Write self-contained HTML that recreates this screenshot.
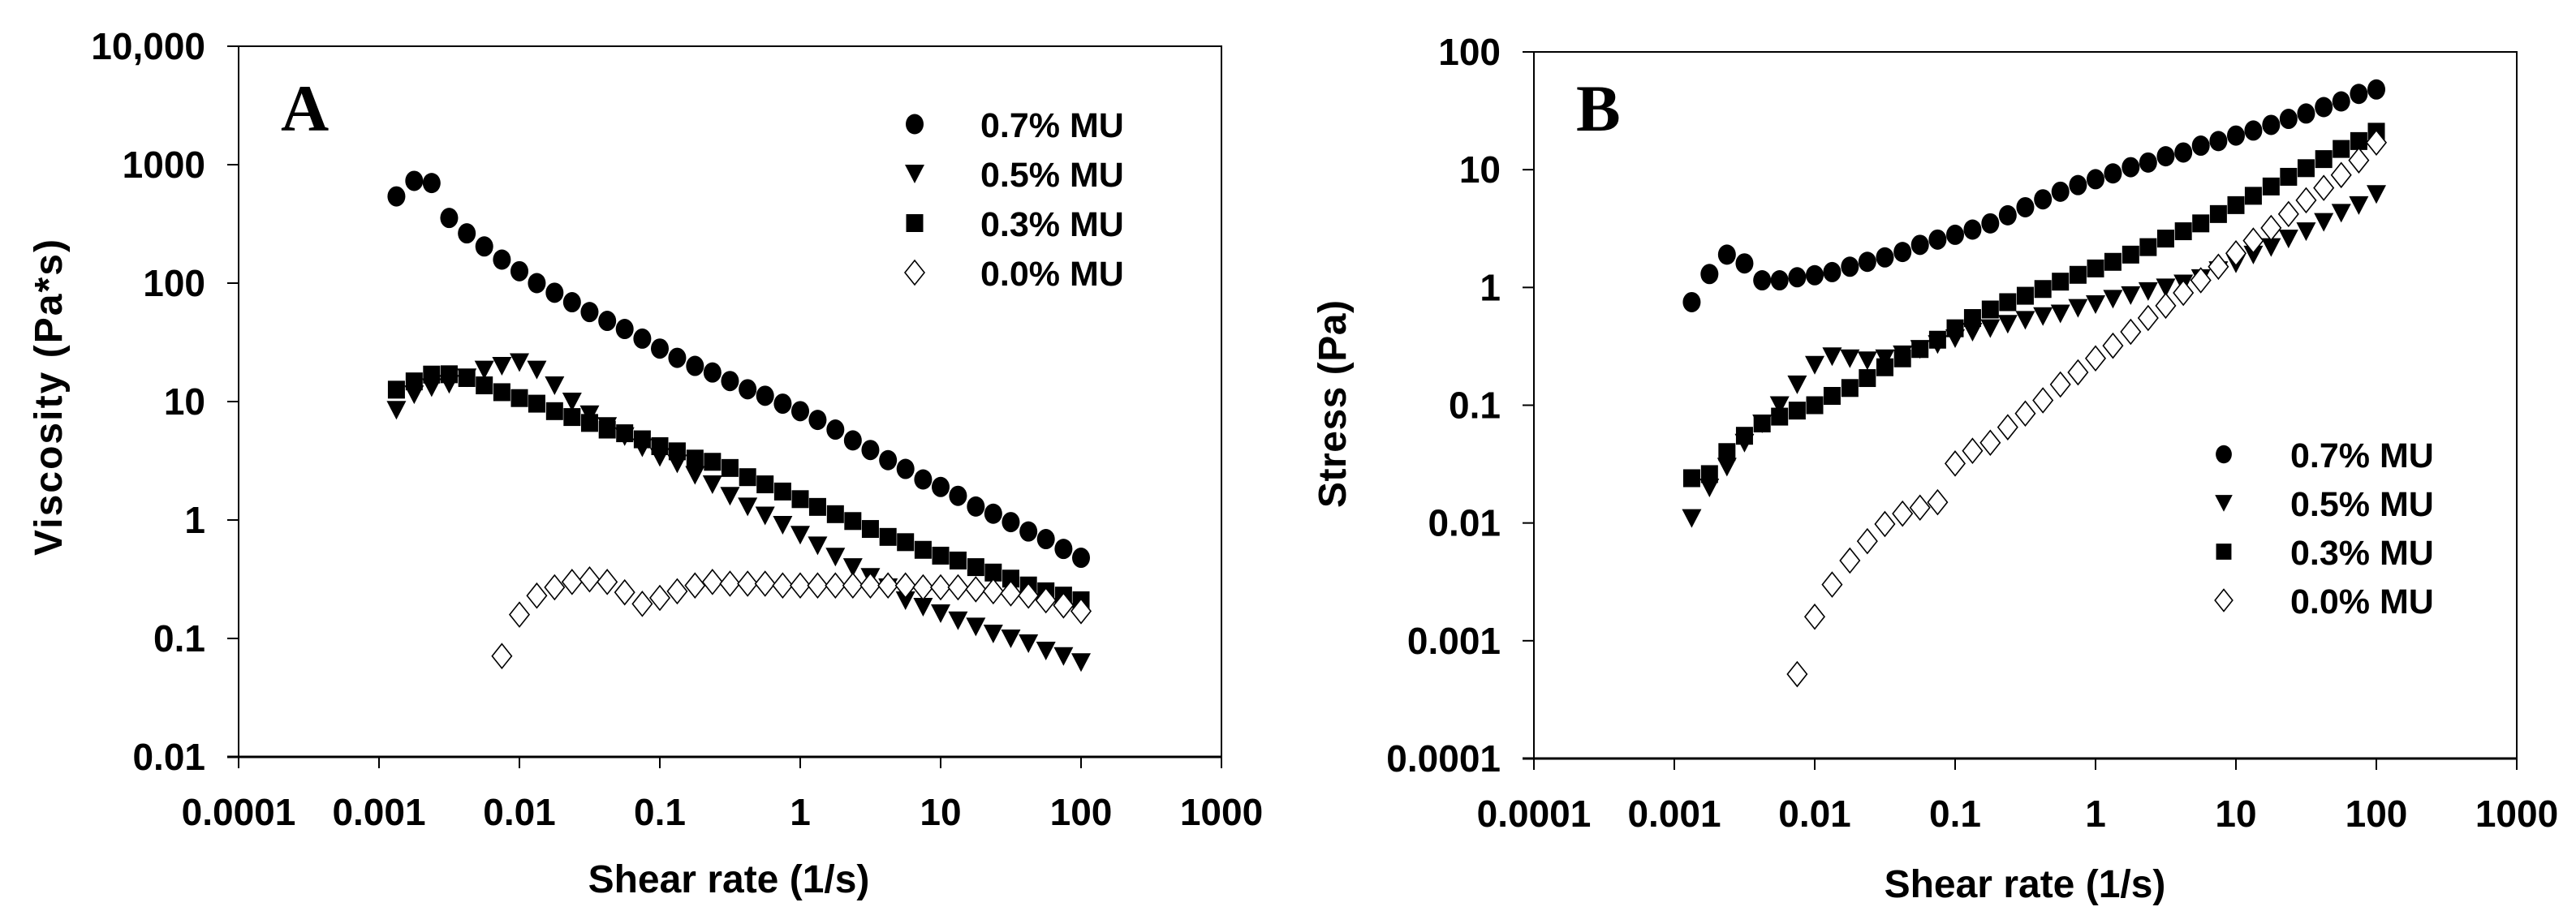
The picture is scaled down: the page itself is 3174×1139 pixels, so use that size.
<!DOCTYPE html>
<html><head><meta charset="utf-8"><style>
html,body{margin:0;padding:0;background:#fff;}
svg{display:block;font-family:"Liberation Sans",Arial,sans-serif;font-weight:bold;}
</style></head><body>
<svg id="fig" width="3174" height="1139" viewBox="0 0 3174 1139" xmlns="http://www.w3.org/2000/svg">
<g id="panelA"></g>
<g id="panelB"></g>
</svg>
<script>
// shear rate grid exponents (8 points per decade from ~0.0013 to 100)
const shearRates = [0.00133,0.00178,0.00237,0.00316,0.00422,0.00562,0.0075,0.01,0.0133,0.0178,0.0237,0.0316,0.0422,0.0562,0.075,0.1,0.133,0.178,0.237,0.316,0.422,0.562,0.75,1,1.33,1.78,2.37,3.16,4.22,5.62,7.5,10,13.3,17.8,23.7,31.6,42.2,56.2,75,100];
const shearRates0 = shearRates.slice(6);
const seriesNames = ["0.7% MU","0.5% MU","0.3% MU","0.0% MU"];
const xTicks = ["0.0001","0.001","0.01","0.1","1","10","100","1000"];
const yTicksA = ["0.01","0.1","1","10","100","1000","10,000"];
const yTicksB = ["0.0001","0.001","0.01","0.1","1","10","100"];

// Panel A viscosity (Pa*s)
const viscA07 = [540,730,700,355,263,204,158,126,100,83,69,57,48,41,34,28,23.4,20,17.6,14.9,12.7,11.2,9.6,8.3,7.0,5.8,4.7,3.9,3.2,2.7,2.2,1.9,1.6,1.3,1.13,0.96,0.8,0.69,0.57,0.48];
const viscA05 = [8.5,11.5,13.2,14.1,16,18.6,20,21.5,18.6,13.7,10,7.8,6.2,5.1,4.1,3.4,3.0,2.4,2.0,1.6,1.3,1.09,0.91,0.75,0.61,0.49,0.40,0.33,0.27,0.21,0.185,0.163,0.142,0.126,0.11,0.10,0.091,0.079,0.071,0.063];
const viscA03 = [12.6,14.8,16.9,17,15.8,13.7,12,10.7,9.6,8.3,7.4,6.6,5.8,5.4,4.8,4.2,3.8,3.3,3.1,2.75,2.3,2.0,1.74,1.5,1.29,1.12,0.98,0.84,0.72,0.65,0.56,0.50,0.455,0.40,0.36,0.32,0.28,0.25,0.23,0.21];
const viscA00 = [0.071,0.159,0.23,0.27,0.30,0.315,0.30,0.245,0.196,0.22,0.25,0.28,0.30,0.29,0.29,0.29,0.28,0.28,0.28,0.28,0.28,0.28,0.28,0.28,0.27,0.27,0.27,0.26,0.25,0.24,0.23,0.21,0.19,0.17];

// Panel B stress (Pa)
const stressB07 = [0.75,1.3,1.9,1.6,1.15,1.15,1.22,1.27,1.35,1.5,1.65,1.8,2.0,2.3,2.55,2.8,3.1,3.5,4.1,4.8,5.6,6.5,7.4,8.3,9.3,10.5,11.5,13,14,16,17.5,19.5,21.5,24,27,30,34,38,44,48];
const stressB05 = [0.011,0.020,0.030,0.048,0.070,0.10,0.15,0.22,0.26,0.25,0.24,0.25,0.27,0.30,0.33,0.37,0.42,0.45,0.49,0.53,0.57,0.60,0.67,0.72,0.80,0.86,0.93,1.0,1.08,1.2,1.4,1.6,1.9,2.2,2.6,3.0,3.6,4.3,5.0,6.2];
const stressB03 = [0.024,0.026,0.04,0.055,0.07,0.08,0.09,0.1,0.12,0.14,0.17,0.21,0.25,0.3,0.36,0.45,0.55,0.65,0.75,0.85,0.97,1.12,1.28,1.45,1.65,1.9,2.2,2.6,3.0,3.5,4.2,5.0,6.0,7.2,8.7,10.3,12.3,15,17.5,21];
const stressB00 = [0.00052,0.0016,0.003,0.0048,0.007,0.0098,0.012,0.0135,0.015,0.032,0.041,0.048,0.065,0.085,0.11,0.15,0.19,0.25,0.32,0.42,0.55,0.7,0.9,1.15,1.5,1.95,2.5,3.2,4.2,5.5,7,9,12,17];

const NS="http://www.w3.org/2000/svg";
function mk(parent,tag,attrs){const e=document.createElementNS(NS,tag);for(const k in attrs)e.setAttribute(k,attrs[k]);parent.appendChild(e);return e;}

function marker(g,type,x,y,s){
  let e;
  if(type==="circle"){e=mk(g,"ellipse",{cx:x,cy:y,rx:11*s,ry:12.5*s,fill:"#000"});}
  else if(type==="tri"){e=mk(g,"polygon",{points:`${x-12*s},${y-11*s} ${x+12*s},${y-11*s} ${x},${y+12*s}`,fill:"#000"});}
  else if(type==="square"){e=mk(g,"rect",{x:x-10.5*s,y:y-11*s,width:21*s,height:22*s,fill:"#000"});}
  else {e=mk(g,"polygon",{points:`${x},${y-15*s} ${x+12*s},${y} ${x},${y+15*s} ${x-12*s},${y}`,fill:"#fff",stroke:"#000","stroke-width":1.6});}
  return e;
}

function panel(gid,cfg){
  const g=document.getElementById(gid);
  const {L,R,T,B,ymin,ymax}=cfg;
  const xs=v=>L+(Math.log10(v)+4)/7*(R-L);
  const ys=v=>B-(Math.log10(v)-ymin)/(ymax-ymin)*(B-T);
  const frame=mk(g,"rect",{x:L,y:T,width:R-L,height:B-T,fill:"none",stroke:"#000","stroke-width":2});
  
  
  const xa=mk(g,"line",{x1:L-14,y1:B,x2:R,y2:B,stroke:"#000","stroke-width":3});
  
  
  xTicks.forEach((t,i)=>{
    const x=xs(parseFloat(t));
    const tk=mk(g,"line",{x1:x,y1:B,x2:x,y2:B+14,stroke:"#000","stroke-width":2});
    
    
    const tl=mk(g,"text",{x:x,y:B+84,"text-anchor":"middle","font-size":46});
    tl.textContent=t;
    
    
  });
  cfg.yTicks.forEach((t,i)=>{
    const y=ys(parseFloat(t.replace(",","")));
    const tk=mk(g,"line",{x1:L-14,y1:y,x2:L,y2:y,stroke:"#000","stroke-width":2});
    
    
    const tl=mk(g,"text",{x:L-41,y:y+16,"text-anchor":"end","font-size":46});
    tl.textContent=t;
    
    
  });
  const xt=mk(g,"text",{x:cfg.xtx,y:cfg.xty,"text-anchor":"middle","font-size":48});
  xt.textContent="Shear rate (1/s)";
  
  
  const yt=mk(g,"text",{x:0,y:0,"text-anchor":"middle","font-size":48,transform:`translate(${cfg.ytx},${cfg.yty}) rotate(-90)`,textLength:cfg.ytl,lengthAdjust:"spacing"});
  yt.textContent=cfg.ytitle;
  
  
  const pl=mk(g,"text",{x:cfg.plx,y:cfg.ply,"font-size":82,"font-family":"Liberation Serif, serif"});
  pl.textContent=cfg.label;
  
  
  const types=["circle","tri","square","diamond"];
  cfg.series.forEach((vals,si)=>{
    const sg=mk(g,"g",{});
    
    
    const rates = si===3?shearRates0:shearRates;
    vals.forEach((v,i)=>{
      const m=marker(sg,types[si],xs(rates[i]),ys(v),1);
      
      
    });
  });
  const lg=mk(g,"g",{});
  
  
  seriesNames.forEach((n,i)=>{
    const y=cfg.legY+i*cfg.legDy;
    const m=marker(lg,types[i],cfg.legMx,y,cfg.legS);
    
    
    const t=mk(lg,"text",{x:cfg.legTx,y:y+16,"font-size":43});
    t.textContent=n;
    
    
  });
}

panel("panelA",{L:294,R:1505,T:57,B:933,ymin:-2,ymax:4,yTicks:yTicksA,
  xtx:898,xty:1100,ytx:76,yty:490,ytl:390,ytitle:"Viscosity (Pa*s)",label:"A",plx:346,ply:161,
  series:[viscA07,viscA05,viscA03,viscA00],legMx:1127,legTx:1208,legY:153,legDy:61,legS:1});
panel("panelB",{L:1890,R:3101,T:64,B:935,ymin:-4,ymax:2,yTicks:yTicksB,
  xtx:2495,xty:1106,ytx:1658,yty:498,ytl:256,ytitle:"Stress (Pa)",label:"B",plx:1942,ply:161,
  series:[stressB07,stressB05,stressB03,stressB00],legMx:2740,legTx:2822,legY:560,legDy:60,legS:0.9});
</script>
</body></html>
